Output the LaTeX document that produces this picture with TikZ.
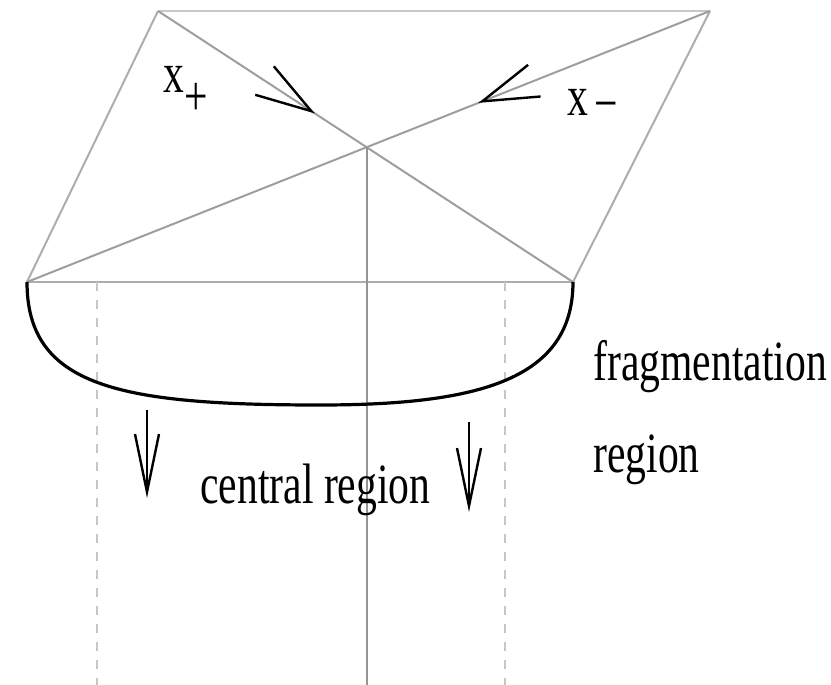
\documentclass[tikz,border=0pt]{standalone}
\usepackage{fontspec}
\newfontfamily\labelfont[FakeStretch=0.73]{Liberation Serif}
\usetikzlibrary{arrows.meta,decorations.markings}

\begin{document}
\begin{tikzpicture}[x=0.5pt,y=-0.5pt,
  edge/.style={draw=black!32,line width=1pt},
  rim/.style={draw=black!22,line width=1pt},
  diag/.style={draw=black!38,line width=1pt,postaction={decorate}},
  chev/.style={decoration={markings,mark=at position #1 with
      {\arrow{Straight Barb[length=28pt,width=17pt,line width=1.2pt,color=black]}}}},
  axis/.style={draw=black!42,line width=1pt},
  cut/.style={draw=black!22,line width=1pt,dash pattern=on 4.5pt off 4.5pt},
  bowl/.style={draw=black,line width=1.6pt},
  fall/.style={-{Straight Barb[length=29pt,width=12pt]},line width=1.2pt},
  lab/.style={font=\labelfont\fontsize{28.5pt}{46pt}\selectfont,inner sep=0pt}
]
\useasboundingbox (0,0) rectangle (831,685);
% corners of the light cone
\coordinate (tl) at (158,11);
\coordinate (tr) at (710,11);
\coordinate (bl) at (27,282);
\coordinate (br) at (573,282);
\coordinate (c) at (intersection of tl--br and tr--bl);
\coordinate (foot) at (365,685);
\coordinate (bot) at (320,405);
% frame and light-cone lines
\draw[edge] (bl) -- (tl);
\draw[rim] (tl) -- (tr);
\draw[edge] (tr) -- (br);
\draw[edge] (bl) -- (br);
\draw[diag,chev=0.378] (tl) -- (br);
\draw[diag,chev=0.339] (tr) -- (bl);
\draw[axis] (c) -- (c |- foot);
% borders of the central region
\coordinate (cl) at (97,282);
\coordinate (cr) at (505,282);
\draw[cut] (cl) -- (cl |- foot);
\draw[cut] (cr) -- (cr |- foot);
% fragmentation bowl
\draw[bowl] (bl) .. controls +(0,105) and +(-200,0) .. (bot)
  .. controls +(160,0) and +(0,97) .. (br);
% falling arrows
\coordinate (fl1) at (147,410);
\coordinate (fl2) at (147,498);
\coordinate (fr1) at (469,422);
\coordinate (fr2) at (469,512);
\draw[fall] (fl1) -- (fl2);
\draw[fall] (fr1) -- (fr2);
% labels
\node[lab,anchor=base west] (xp) at (163,92) {x\raisebox{-11.5pt}{+}};
\node[lab,anchor=base west] (xm) at (567,115) {x\kern3pt\raisebox{-3.5pt}{−}};
\node[lab,anchor=base west] (cen) at (200,503) {central region};
\node[lab,anchor=base west,align=left] (frag) at (593,472) {fragmentation\\region};
\end{tikzpicture}
\end{document}
